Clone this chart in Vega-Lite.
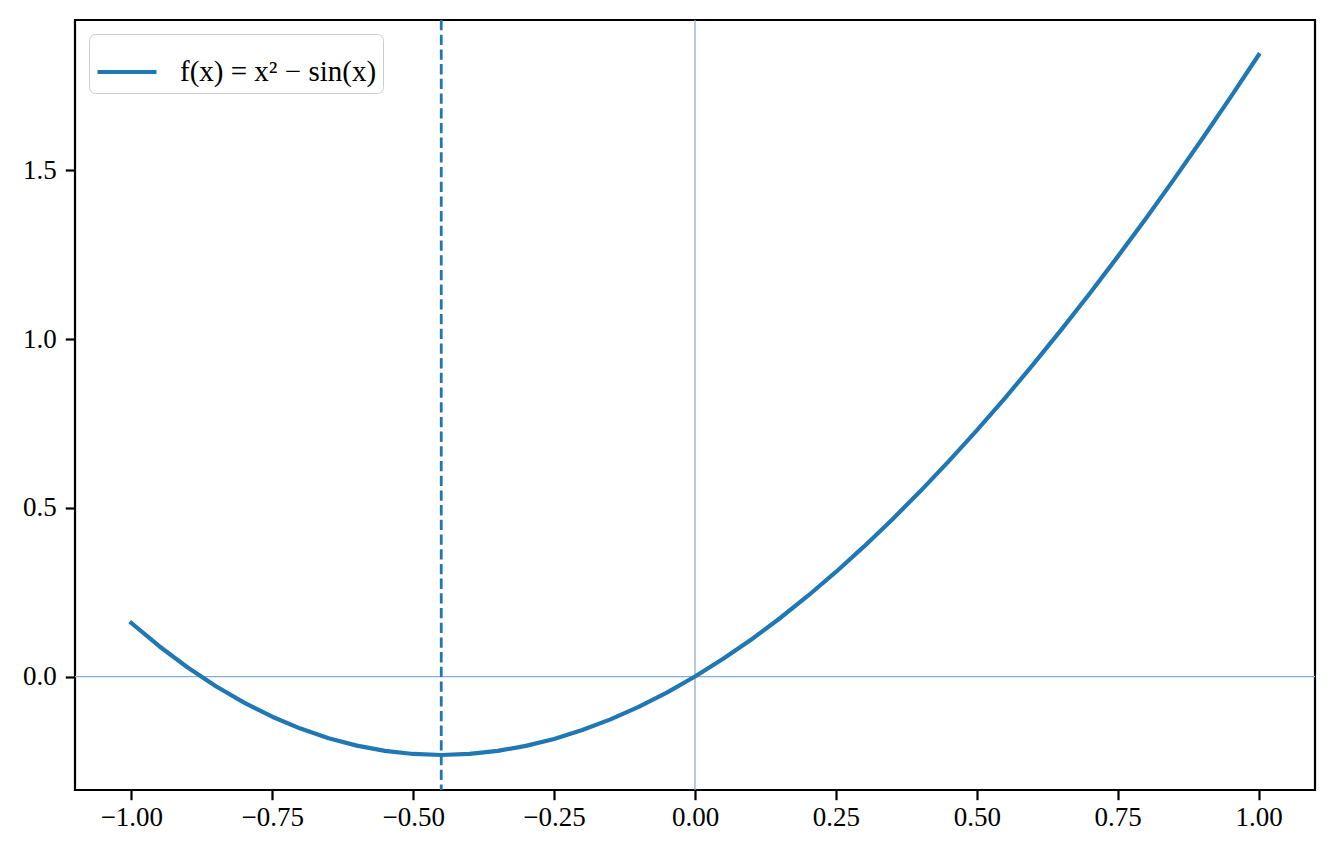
{
  "$schema": "https://vega.github.io/schema/vega-lite/v6.json",
  "width": 1240,
  "height": 770,
  "autosize": {"type": "none"},
  "padding": {"left": 75, "top": 20, "right": 19, "bottom": 64},
  "background": "white",
  "config": {
    "view": {"stroke": "black", "strokeWidth": 2.2},
    "axis": {
      "grid": false,
      "domain": false,
      "ticks": true,
      "tickColor": "black",
      "tickSize": 9.7,
      "tickWidth": 2.2,
      "labelFont": "Liberation Serif",
      "labelFontSize": 27,
      "labelColor": "black",
      "title": null
    }
  },
  "datasets": {
    "curve": [
      {"x": -1.0, "y": 0.15853, "label": "f(x) = x² − sin(x)"},
      {"x": -0.95, "y": 0.08908, "label": "f(x) = x² − sin(x)"},
      {"x": -0.9, "y": 0.02667, "label": "f(x) = x² − sin(x)"},
      {"x": -0.85, "y": -0.02878, "label": "f(x) = x² − sin(x)"},
      {"x": -0.8, "y": -0.07736, "label": "f(x) = x² − sin(x)"},
      {"x": -0.75, "y": -0.11914, "label": "f(x) = x² − sin(x)"},
      {"x": -0.7, "y": -0.15422, "label": "f(x) = x² − sin(x)"},
      {"x": -0.65, "y": -0.18269, "label": "f(x) = x² − sin(x)"},
      {"x": -0.6, "y": -0.20464, "label": "f(x) = x² − sin(x)"},
      {"x": -0.55, "y": -0.22019, "label": "f(x) = x² − sin(x)"},
      {"x": -0.5, "y": -0.22943, "label": "f(x) = x² − sin(x)"},
      {"x": -0.45, "y": -0.23247, "label": "f(x) = x² − sin(x)"},
      {"x": -0.4, "y": -0.22942, "label": "f(x) = x² − sin(x)"},
      {"x": -0.35, "y": -0.2204, "label": "f(x) = x² − sin(x)"},
      {"x": -0.3, "y": -0.20552, "label": "f(x) = x² − sin(x)"},
      {"x": -0.25, "y": -0.1849, "label": "f(x) = x² − sin(x)"},
      {"x": -0.2, "y": -0.15867, "label": "f(x) = x² − sin(x)"},
      {"x": -0.15, "y": -0.12694, "label": "f(x) = x² − sin(x)"},
      {"x": -0.1, "y": -0.08983, "label": "f(x) = x² − sin(x)"},
      {"x": -0.05, "y": -0.04748, "label": "f(x) = x² − sin(x)"},
      {"x": 0.0, "y": 0.0, "label": "f(x) = x² − sin(x)"},
      {"x": 0.05, "y": 0.05248, "label": "f(x) = x² − sin(x)"},
      {"x": 0.1, "y": 0.10983, "label": "f(x) = x² − sin(x)"},
      {"x": 0.15, "y": 0.17194, "label": "f(x) = x² − sin(x)"},
      {"x": 0.2, "y": 0.23867, "label": "f(x) = x² − sin(x)"},
      {"x": 0.25, "y": 0.3099, "label": "f(x) = x² − sin(x)"},
      {"x": 0.3, "y": 0.38552, "label": "f(x) = x² − sin(x)"},
      {"x": 0.35, "y": 0.4654, "label": "f(x) = x² − sin(x)"},
      {"x": 0.4, "y": 0.54942, "label": "f(x) = x² − sin(x)"},
      {"x": 0.45, "y": 0.63747, "label": "f(x) = x² − sin(x)"},
      {"x": 0.5, "y": 0.72943, "label": "f(x) = x² − sin(x)"},
      {"x": 0.55, "y": 0.82519, "label": "f(x) = x² − sin(x)"},
      {"x": 0.6, "y": 0.92464, "label": "f(x) = x² − sin(x)"},
      {"x": 0.65, "y": 1.02769, "label": "f(x) = x² − sin(x)"},
      {"x": 0.7, "y": 1.13422, "label": "f(x) = x² − sin(x)"},
      {"x": 0.75, "y": 1.24414, "label": "f(x) = x² − sin(x)"},
      {"x": 0.8, "y": 1.35736, "label": "f(x) = x² − sin(x)"},
      {"x": 0.85, "y": 1.47378, "label": "f(x) = x² − sin(x)"},
      {"x": 0.9, "y": 1.59333, "label": "f(x) = x² − sin(x)"},
      {"x": 0.95, "y": 1.71592, "label": "f(x) = x² − sin(x)"},
      {"x": 1.0, "y": 1.84147, "label": "f(x) = x² − sin(x)"}
    ],
    "vref": [{"x": 0}],
    "href": [{"y": 0}],
    "minline": [{"x": -0.4502}]
  },
  "layer": [
    {
      "data": {"name": "vref"},
      "mark": {"type": "rule", "color": "#8aaed2", "strokeWidth": 1.3},
      "encoding": {
        "x": {"field": "x", "type": "quantitative", "scale": {"domain": [-1.1, 1.1], "nice": false, "zero": false}}
      }
    },
    {
      "data": {"name": "href"},
      "mark": {"type": "rule", "color": "#8aaed2", "strokeWidth": 1.3},
      "encoding": {
        "y": {"field": "y", "type": "quantitative", "scale": {"domain": [-0.3362, 1.9452], "nice": false, "zero": false}}
      }
    },
    {
      "data": {"name": "curve"},
      "mark": {"type": "line", "strokeWidth": 4.2, "strokeJoin": "round", "strokeCap": "square"},
      "encoding": {
        "x": {
          "field": "x", "type": "quantitative",
          "scale": {"domain": [-1.1, 1.1], "nice": false, "zero": false},
          "axis": {"values": [-1, -0.75, -0.5, -0.25, 0, 0.25, 0.5, 0.75, 1], "format": ".2f", "labelPadding": 5}
        },
        "y": {
          "field": "y", "type": "quantitative",
          "scale": {"domain": [-0.3362, 1.9452], "nice": false, "zero": false},
          "axis": {"values": [0, 0.5, 1, 1.5], "format": ".1f", "labelPadding": 9}
        },
        "color": {
          "field": "label", "type": "nominal",
          "scale": {"range": ["#1f77b4"]},
          "legend": {
            "title": null,
            "orient": "none",
            "legendX": 14,
            "legendY": 14,
            "symbolType": "stroke",
            "symbolSize": 3481,
            "symbolStrokeWidth": 4.2,
            "labelFont": "Liberation Serif",
            "labelFontSize": 29,
            "labelColor": "black",
            "labelOffset": 21,
            "padding": 6,
            "strokeColor": "#cccccc",
            "fillColor": "white",
            "cornerRadius": 6,
            "labelLimit": 400
          }
        }
      }
    },
    {
      "data": {"name": "minline"},
      "mark": {"type": "rule", "color": "#1f77b4", "strokeWidth": 2.8, "strokeDash": [10.3, 4.4]},
      "encoding": {
        "x": {"field": "x", "type": "quantitative", "scale": {"domain": [-1.1, 1.1], "nice": false, "zero": false}}
      }
    }
  ]
}
